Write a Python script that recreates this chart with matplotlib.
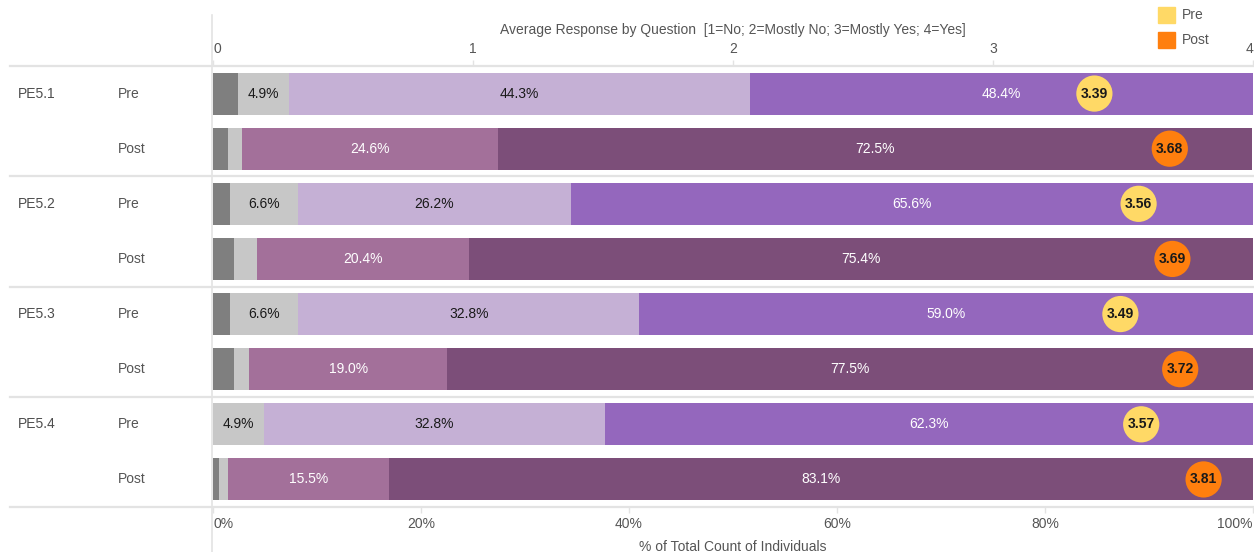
import numpy as np
import matplotlib.pyplot as plt
from matplotlib.patches import Rectangle

plt.rcParams['font.family'] = ['Liberation Sans', 'DejaVu Sans']

# Data
questions = ['PE5.1', 'PE5.2', 'PE5.3', 'PE5.4']
periods = ['Pre', 'Post']
pct_no = [2.4, 1.4, 1.6, 2.0, 1.6, 2.0, 0.0, 0.6]
pct_mostly_no = [4.9, 1.4, 6.6, 2.2, 6.6, 1.5, 4.9, 0.8]
pct_mostly_yes = [44.3, 24.6, 26.2, 20.4, 32.8, 19.0, 32.8, 15.5]
pct_yes = [48.4, 72.5, 65.6, 75.4, 59.0, 77.5, 62.3, 83.1]
avg_response = [3.39, 3.68, 3.56, 3.69, 3.49, 3.72, 3.57, 3.81]

pre_colors = ['#7f7f7f', '#c7c7c7', '#c5b0d5', '#9467bd']
post_colors = ['#7f7f7f', '#c7c7c7', '#a3709a', '#7c4e79']
text_dark = ['#1a1a1a', '#1a1a1a', '#1a1a1a', 'white']
text_post = ['#1a1a1a', '#1a1a1a', 'white', 'white']
circle_colors = {'Pre': '#ffd966', 'Post': '#ff7f0e'}
grid_col = '#e3e3e3'
lab_col = '#555555'
fs = 10

W, H = 1254, 552
fig = plt.figure(figsize=(W / 100, H / 100), dpi=100)
ax_left, ax_right = 213 / W, 1253 / W
ax_top, ax_bot = 1 - 66 / H, 1 - 507 / H
ax = fig.add_axes([ax_left, ax_bot, ax_right - ax_left, ax_top - ax_bot])

segments = np.array([pct_no, pct_mostly_no, pct_mostly_yes, pct_yes])
n_rows = len(avg_response)
ypos = np.arange(n_rows)

for i in range(n_rows):
    period = periods[i % 2]
    cols = pre_colors if period == 'Pre' else post_colors
    tcols = text_dark if period == 'Pre' else text_post
    left = 0
    for k in range(4):
        v = segments[k, i]
        if v > 0:
            ax.barh(ypos[i], v, left=left, height=0.76, color=cols[k],
                    edgecolor='none')
            if v >= 4:
                ax.text(left + v / 2, ypos[i], f'{v:.1f}%', ha='center',
                        va='center', fontsize=fs, color=tcols[k])
        left += v
    xc = avg_response[i] / 4 * 100
    ax.scatter(xc, ypos[i], s=680, color=circle_colors[period], zorder=3,
               edgecolors='none')
    ax.text(xc, ypos[i], f'{avg_response[i]:.2f}', ha='center', va='center',
            fontsize=fs, fontweight='bold', color='#1a1a1a', zorder=4)

ax.set_xlim(0, 100)
ax.set_ylim(n_rows - 0.5, -0.5)
ax.set_yticks([])
for s in ax.spines.values():
    s.set_visible(False)

# group separator lines (extend into the label area)
ext = (213 - 10) / (1253 - 213)
for yb in [-0.5, 1.5, 3.5, 5.5, 7.5]:
    ax.axhline(yb, xmin=-ext, xmax=1, color=grid_col, lw=1.6, clip_on=False,
               zorder=0)

# bottom axis
ax.set_xticks([0, 20, 40, 60, 80, 100])
ax.set_xticklabels(['0%', '20%', '40%', '60%', '80%', '100%'])
ax.tick_params(axis='x', colors=grid_col, labelcolor=lab_col, labelsize=fs,
               length=4, width=1, pad=3)
tl = ax.get_xticklabels()
tl[0].set_ha('left')
tl[-1].set_ha('right')
ax.set_xlabel('% of Total Count of Individuals', fontsize=fs, color=lab_col,
              labelpad=7)

# top axis: average response
top = ax.secondary_xaxis('top', functions=(lambda x: x / 25, lambda x: x * 25))
top.set_xticks([0, 1, 2, 3, 4])
top.tick_params(axis='x', colors=grid_col, labelcolor=lab_col, labelsize=fs,
                length=4, width=1, pad=3)
for s in top.spines.values():
    s.set_visible(False)
ttl = top.get_xticklabels()
ttl[0].set_ha('left')
ttl[-1].set_ha('right')
top.set_xlabel('Average Response by Question  [1=No; 2=Mostly No; 3=Mostly Yes; 4=Yes]',
               fontsize=fs, color=lab_col, labelpad=6)

# vertical pane divider
fig.add_artist(plt.Line2D([212 / W, 212 / W], [0, 1 - 15 / H], color=grid_col,
                          lw=1.2))

# row labels
for i in range(n_rows):
    yf = 1 - (66 + (i + 0.5) * (441 / n_rows)) / H
    if i % 2 == 0:
        fig.text(18 / W, yf, questions[i // 2], ha='left', va='center',
                 fontsize=fs, color='#4d4d4d')
    fig.text(118 / W, yf, periods[i % 2], ha='left', va='center',
             fontsize=fs, color=lab_col)

# legend
for name, yc in [('Pre', 15), ('Post', 40)]:
    fig.add_artist(Rectangle((1158 / W, 1 - (yc + 8) / H), 17 / W, 16 / H,
                             transform=fig.transFigure,
                             color=circle_colors[name]))
    fig.text(1182 / W, 1 - yc / H, name, ha='left', va='center',
             fontsize=fs, color=lab_col)

fig.savefig('out.png', dpi=100, facecolor='white')
